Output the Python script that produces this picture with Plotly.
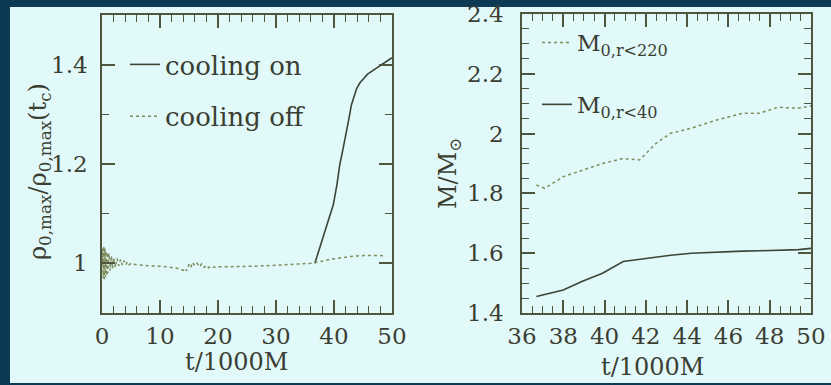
import plotly.graph_objects as go

W, H = 831, 385

# ---- data -------------------------------------------------------------
# left panel: central rest-mass density normalised to its value at t_c
t_off = [0.0, 0.1, 0.2, 0.3, 0.4, 0.5, 0.6, 0.7, 0.8, 0.9, 1.0, 1.2, 1.4, 1.6, 1.8,
         2.0, 2.3, 2.6, 2.9, 3.2, 3.5, 3.8, 4.1, 4.4, 4.7, 5.0, 5.5, 6.0, 7.0, 8.0,
         9.0, 10.0, 11.0, 12.0, 13.0, 13.5, 14.0, 14.3, 14.6, 15.0, 15.3, 15.6, 16.0,
         16.4, 16.8, 17.2, 17.6, 18.0, 18.4, 18.8, 19.2, 20.0, 22.0, 24.0, 26.0, 28.0,
         30.0, 32.0, 34.0, 36.0, 37.0, 38.0, 39.0, 40.0, 41.0, 42.0, 43.0, 44.0, 45.0,
         46.0, 47.0, 48.0, 49.0]
rho_off = [1.0, 1.03, 0.97, 1.035, 0.968, 1.03, 0.972, 1.025, 0.975, 1.022, 0.98, 1.02,
           0.985, 1.015, 0.99, 1.012, 0.992, 1.01, 0.995, 1.008, 0.996, 1.005, 0.997,
           1.003, 0.997, 1.0, 0.998, 0.997, 0.996, 0.995, 0.995, 0.994, 0.993, 0.992,
           0.99, 0.988, 0.986, 0.99, 0.985, 0.998, 0.992, 1.002, 0.995, 1.0, 0.993,
           0.999, 0.992, 0.996, 0.991, 0.994, 0.992, 0.993, 0.993, 0.993, 0.994, 0.995,
           0.996, 0.997, 0.998, 1.0, 1.002, 1.005, 1.007, 1.009, 1.011, 1.013, 1.014,
           1.015, 1.016, 1.016, 1.016, 1.016, 1.015]

t_on = [36.7, 37.5, 38.4, 39.2, 39.9, 40.5, 41.0, 41.6, 42.2, 42.6, 43.0, 43.5, 43.9,
        44.5, 45.1, 45.8, 46.8, 47.6, 48.5, 49.3, 50.0]
rho_on = [1.0, 1.03, 1.065, 1.092, 1.119, 1.158, 1.199, 1.233, 1.265, 1.293, 1.319,
          1.338, 1.352, 1.364, 1.372, 1.381, 1.389, 1.395, 1.402, 1.408, 1.414]

# right panel: rest mass inside two radii
t_m = [36.7, 37.1, 38.0, 38.9, 39.9, 40.9, 41.7, 42.5, 43.2, 44.2, 45.4, 46.7, 47.5,
       48.4, 49.4, 50.0]
m_220 = [1.828, 1.817, 1.856, 1.878, 1.900, 1.917, 1.912, 1.968, 2.001, 2.018, 2.045,
         2.068, 2.068, 2.088, 2.085, 2.092]
m_40 = [1.455, 1.462, 1.477, 1.505, 1.533, 1.572, 1.580, 1.586, 1.593, 1.600, 1.604,
        1.607, 1.608, 1.610, 1.612, 1.616]

left_xticks = [0, 10, 20, 30, 40, 50]
right_xticks = [36, 38, 40, 42, 44, 46, 48, 50]

# ---- styling ----------------------------------------------------------
NAVY = "#0c3a54"
PANEL = "#e2f9f9"
INK = "#3b3f33"
AXC = "#4f5640"
SOLID = "#3c4538"
DOTTED = "#7f8c5c"
FONT = "DejaVu Serif"


def px_x(p):
    return p / W


def px_y(p):
    return 1 - p / H


def axis_style(**kw):
    base = dict(
        showline=True, linecolor=AXC, linewidth=1.5, mirror="allticks",
        ticks="inside", ticklen=13, tickwidth=1.5, tickcolor=AXC,
        showgrid=False, zeroline=False, automargin=False,
        tickfont=dict(family=FONT, size=23, color=INK),
    )
    base.update(kw)
    return base


fig = go.Figure()

fig.add_trace(go.Scatter(
    x=t_on, y=rho_on, mode="lines", name="cooling on",
    line=dict(color=SOLID, width=1.6), xaxis="x", yaxis="y",
    legend="legend", legendgroup="on"))
fig.add_trace(go.Scatter(
    x=t_off, y=rho_off, mode="lines", name="cooling off",
    line=dict(color=DOTTED, width=1.5, dash="dot"), xaxis="x", yaxis="y",
    legend="legend", legendgroup="off"))

fig.add_trace(go.Scatter(
    x=t_m, y=m_220, mode="lines", name="M<sub>0,r&lt;220</sub>",
    line=dict(color=DOTTED, width=1.5, dash="dot"), xaxis="x2", yaxis="y2",
    legend="legend2", legendgroup="m220"))
fig.add_trace(go.Scatter(
    x=t_m, y=m_40, mode="lines", name="M<sub>0,r&lt;40</sub>",
    line=dict(color=SOLID, width=1.6), xaxis="x2", yaxis="y2",
    legend="legend2", legendgroup="m40"))

minor_common = dict(ticks="inside", ticklen=7, tickwidth=1.2, tickcolor=AXC)

fig.update_layout(
    width=W, height=H,
    margin=dict(l=0, r=0, t=0, b=0),
    paper_bgcolor=NAVY, plot_bgcolor=PANEL,
    font=dict(family=FONT, color=INK),
    xaxis=axis_style(
        domain=[px_x(102), px_x(392)], range=[0, 50], anchor="y",
        tickvals=left_xticks, ticklabelstandoff=2,
        minor=dict(dtick=2, **minor_common)),
    yaxis=axis_style(
        domain=[px_y(313), px_y(15)], range=[0.9, 1.5], anchor="x",
        dtick=0.2, tick0=1.0, ticklabelstandoff=8,
        minor=dict(dtick=0.1, **minor_common)),
    xaxis2=axis_style(
        domain=[px_x(522), px_x(811)], range=[36, 50], anchor="y2",
        tickvals=right_xticks, ticklabelstandoff=2,
        minor=dict(dtick=0.5, **minor_common)),
    yaxis2=axis_style(
        domain=[px_y(313), px_y(14)], range=[1.4, 2.4], anchor="x2",
        dtick=0.2, tick0=1.4, ticklabelstandoff=12,
        minor=dict(dtick=0.05, **minor_common)),
    legend=dict(
        x=px_x(125), y=px_y(41), xanchor="left", yanchor="top",
        bgcolor="rgba(0,0,0,0)", borderwidth=0, traceorder="grouped",
        tracegroupgap=15, font=dict(family=FONT, size=26, color=INK)),
    legend2=dict(
        x=px_x(537), y=px_y(21), xanchor="left", yanchor="top",
        bgcolor="rgba(0,0,0,0)", borderwidth=0, traceorder="grouped",
        tracegroupgap=29, font=dict(family=FONT, size=23, color=INK)),
    showlegend=True,
)

# light slide panel behind both plots
fig.add_shape(type="rect", xref="paper", yref="paper", layer="below",
              x0=px_x(10), x1=1.0, y0=px_y(383), y1=px_y(7),
              fillcolor=PANEL, line=dict(width=0))

title_font = dict(family=FONT, size=24, color=INK)
common = dict(xref="paper", yref="paper", showarrow=False, font=title_font,
              xanchor="center", yanchor="middle")
fig.add_annotation(text="t/1000M", x=px_x(236), y=px_y(362), **common)
fig.add_annotation(text="t/1000M", x=px_x(652), y=px_y(367), **common)
fig.add_annotation(text="ρ<sub>0,max</sub>/ρ<sub>0,max</sub>(t<sub>c</sub>)",
                   x=px_x(40), y=px_y(172), textangle=-90, **common)
fig.add_annotation(text="M/M<sub>⊙</sub>", x=px_x(450), y=px_y(174),
                   textangle=-90, **common)

fig.write_html("out.html")
